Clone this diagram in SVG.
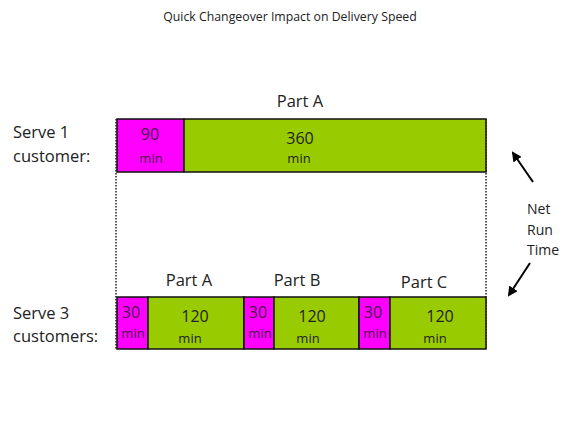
<svg xmlns="http://www.w3.org/2000/svg" width="572" height="429" viewBox="0 0 572 429">
<defs>
<marker id="ah" markerWidth="10" markerHeight="10" refX="8" refY="5" orient="auto" markerUnits="userSpaceOnUse">
<path d="M0,0 L10,5 L0,10 z" fill="#000"/>
</marker>
</defs>
<style>
text{font-family:"Open Sans","Liberation Sans",sans-serif;fill:#222}
.t{font-size:12.3px}
.lbl{font-size:16.5px}
.num{font-size:16px;text-anchor:middle}
.mn{font-size:13px;text-anchor:middle}
.nr{font-size:14px}
.mg{fill:#FF00FF;stroke:#111;stroke-width:1.5}
.gr{fill:#99CC00;stroke:#111;stroke-width:1.5}
.pt{fill:#4a1a4a}
.dot{stroke:#222;stroke-width:1.5;stroke-dasharray:1.5 1.5;fill:none}
</style>
<rect width="572" height="429" fill="#fff"/>
<text class="t" x="290" y="21" text-anchor="middle">Quick Changeover Impact on Delivery Speed</text>
<g id="labels">
<text class="lbl" x="13" y="138">Serve 1</text>
<text class="lbl" x="13" y="162">customer:</text>
<text class="lbl" x="13" y="319">Serve 3</text>
<text class="lbl" x="13" y="342">customers:</text>
<text class="lbl" x="300" y="107" text-anchor="middle">Part A</text>
<text class="lbl" x="189" y="286" text-anchor="middle">Part A</text>
<text class="lbl" x="297" y="286" text-anchor="middle">Part B</text>
<text class="lbl" x="424" y="288" text-anchor="middle">Part C</text>
<text class="nr" x="527" y="214">Net</text>
<text class="nr" x="527" y="235">Run</text>
<text class="nr" x="527" y="255">Time</text>
</g>
<g id="connectors">
<line class="dot" x1="116" y1="119" x2="116" y2="349"/>
<line class="dot" x1="486" y1="119" x2="486" y2="349"/>
<line x1="533" y1="182" x2="513" y2="153" stroke="#000" stroke-width="2" marker-end="url(#ah)"/>
<line x1="530" y1="263" x2="509" y2="295" stroke="#000" stroke-width="2" marker-end="url(#ah)"/>
</g>
<g id="bar1">
<rect class="mg" x="117" y="119" width="67" height="53"/>
<rect class="gr" x="184" y="119" width="302" height="53"/>
<text class="num pt" x="150" y="140">90</text>
<text class="mn pt" x="151" y="163">min</text>
<text class="num" x="300" y="144">360</text>
<text class="mn" x="299" y="163">min</text>
</g>
<g id="bar3">
<rect class="mg" x="117" y="297" width="31" height="52"/>
<rect class="gr" x="148" y="297" width="96" height="52"/>
<rect class="mg" x="244" y="297" width="30" height="52"/>
<rect class="gr" x="274" y="297" width="85" height="52"/>
<rect class="mg" x="359" y="297" width="31" height="52"/>
<rect class="gr" x="390" y="297" width="96" height="52"/>
<text class="num pt" x="131" y="318">30</text>
<text class="mn pt" x="133" y="338">min</text>
<text class="num" x="195" y="322">120</text>
<text class="mn" x="190" y="343">min</text>
<text class="num pt" x="258" y="318">30</text>
<text class="mn pt" x="260" y="338">min</text>
<text class="num" x="312" y="322">120</text>
<text class="mn" x="308" y="343">min</text>
<text class="num pt" x="373" y="318">30</text>
<text class="mn pt" x="375" y="338">min</text>
<text class="num" x="440" y="322">120</text>
<text class="mn" x="435" y="343">min</text>
</g>
</svg>
